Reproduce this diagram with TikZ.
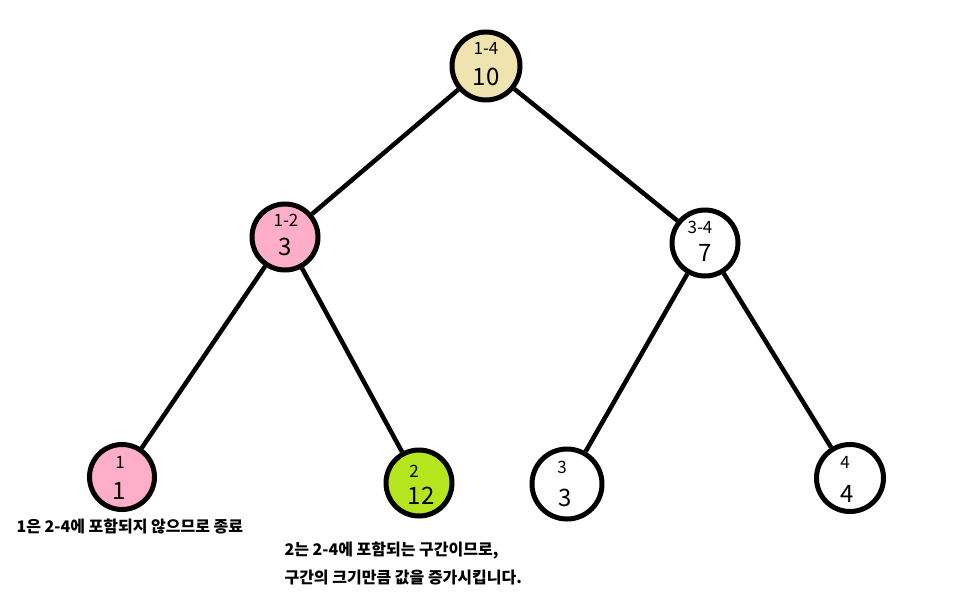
\documentclass[tikz,border=0pt]{standalone}
\usepackage{fontspec}
\setmainfont{Noto Sans CJK KR}
\begin{document}
\begin{tikzpicture}[x=1pt,y=-1pt,
  tnode/.style={circle,draw=black,line width=5pt,minimum size=#1pt,inner sep=0pt},
  edge/.style={line width=4.5pt},
  small/.style={font=\fontsize{17}{18}\selectfont},
  big/.style={font=\fontsize{24}{26}\selectfont},
  note/.style={font=\fontsize{16}{18}\selectfont\bfseries,anchor=west}]
\definecolor{tan}{HTML}{EFE4B0}
\definecolor{pinkc}{HTML}{FFAEC9}
\definecolor{lime}{HTML}{B5E61D}
\useasboundingbox (0,0) rectangle (958,603);
\node[tnode=68,fill=tan] (r) at (486,66) {};
\node[tnode=66,fill=pinkc] (a) at (285,237) {};
\node[tnode=66,fill=white] (b) at (705,243) {};
\node[tnode=65,fill=pinkc] (c) at (122,477) {};
\node[tnode=66,fill=lime] (d) at (419,483) {};
\node[tnode=70,fill=white] (e) at (567,484) {};
\node[tnode=67,fill=white] (f) at (850,478) {};
\draw[edge] (r) -- (a);
\draw[edge] (r) -- (b);
\draw[edge] (a) -- (c);
\draw[edge] (a) -- (d);
\draw[edge] (b) -- (e);
\draw[edge] (b) -- (f);
\node[small] (rl) at (486,48) {1-4};
\node[big] (rv) at (486,77) {10};
\node[small] (al) at (286,220) {1-2};
\node[big] (av) at (285,247) {3};
\node[small] (bl) at (700,227) {3-4};
\node[big] (bv) at (705,253) {7};
\node[small] (cl) at (120,462) {1};
\node[big] (cv) at (119,491) {1};
\node[small] (dl) at (414,471) {2};
\node[big] (dv) at (421,496) {12};
\node[small] (el) at (562,467) {3};
\node[big] (ev) at (565,498) {3};
\node[small] (fl) at (845,462) {4};
\node[big] (fv) at (847,494) {4};
\node[note] (n1) at (13,526) {1은 2-4에 포함되지 않으므로 종료};
\node[note] (n2) at (281,551) {2는 2-4에 포함되는 구간이므로,};
\node[note] (n3) at (281,578) {구간의 크기만큼 값을 증가시킵니다.};
\end{tikzpicture}
\end{document}
